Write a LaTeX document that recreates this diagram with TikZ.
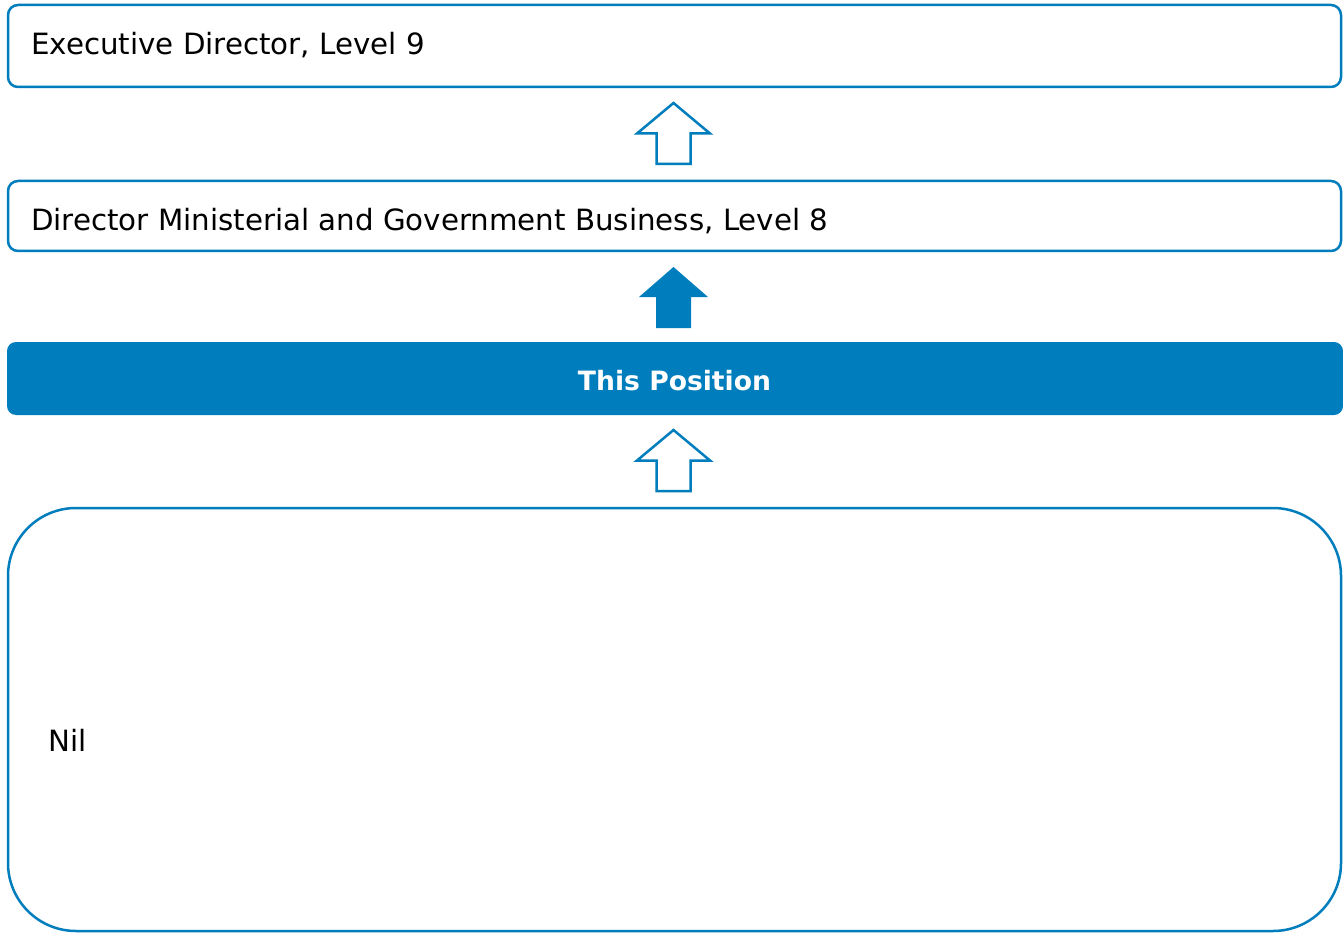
\documentclass[tikz,border=0pt]{standalone}
\usepackage{fontspec}
\setmainfont{DejaVu Sans}
\definecolor{pblue}{RGB}{0,125,188}
\tikzset{
  box/.style={draw=pblue, line width=2.5pt, rounded corners=10pt, fill=white},
  fbox/.style={fill=pblue, draw=none, rounded corners=9pt},
  lbl/.style={font=\fontsize{29.3}{34}\selectfont, text=black, inner sep=0pt, anchor=base west},
  upar/.style={draw=pblue, line width=2.5pt, fill=white, line join=miter},
  upfill/.style={fill=pblue, draw=none},
}
\begin{document}
\begin{tikzpicture}[x=1pt,y=-1pt]
\useasboundingbox (0,0) rectangle (1343,933);
% boxes
\draw[box] (8,5) rectangle (1341,87);
\draw[box] (8,181) rectangle (1341,251);
\fill[fbox] (7,342) rectangle (1343,415);
\draw[box, rounded corners=68pt] (8,508) rectangle (1341,931);
% labels
\node[lbl] (ed) at (31,54.5) {Executive Director, Level 9};
\node[lbl] (dm) at (31,231) {Director Ministerial and Government Business, Level 8};
\node[lbl, font=\fontsize{26.6}{32}\selectfont\bfseries, text=white, anchor=base] (tp) at (674.5,390) {This Position};
\node[lbl] (nil) at (48,751.5) {Nil};
% arrows
\coordinate (a1) at (673.5,103);
\coordinate (a2) at (673.5,267);
\coordinate (a3) at (673.5,430);
\draw[upar] (a1) -- ++(36.5,30.5) -- ++(-19.5,0) -- ++(0,30.5) -- ++(-34,0) -- ++(0,-30.5) -- ++(-19.5,0) -- cycle;
\fill[upfill] (a2) -- ++(34.5,30) -- ++(-17,0) -- ++(0,31) -- ++(-35,0) -- ++(0,-31) -- ++(-17,0) -- cycle;
\draw[upar] (a3) -- ++(36.5,30.5) -- ++(-19.5,0) -- ++(0,30.5) -- ++(-34,0) -- ++(0,-30.5) -- ++(-19.5,0) -- cycle;
\end{tikzpicture}
\end{document}
